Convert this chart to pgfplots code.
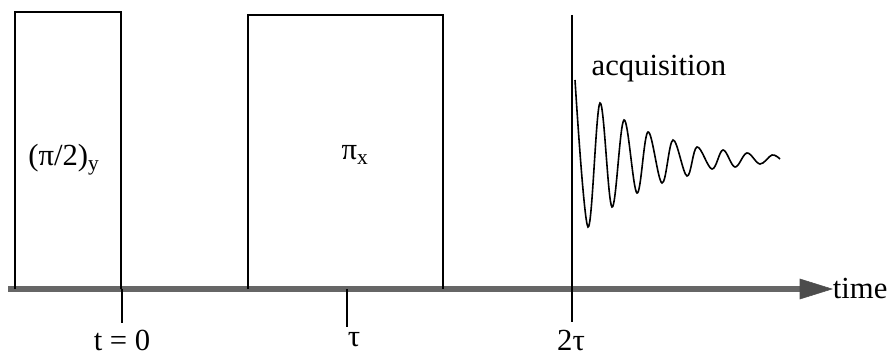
\documentclass[border=0pt]{standalone}
\usepackage{pgfplots}
\pgfplotsset{compat=1.18}
\usepackage{fontspec}
\setmainfont{Liberation Serif}
\newcommand{\lf}{\fontsize{23}{27}\selectfont}
\begin{document}
\begin{tikzpicture}
\begin{axis}[scale only axis, width=666.75pt, height=265.5pt,
  xmin=0, xmax=889, ymin=0, ymax=354, axis lines=none, clip=false]
% baseline (time axis)
\addplot[line width=4pt, color=black!60] coordinates {(8,65) (806,65)};
\addplot[fill=black!70, draw=black!70] coordinates {(800,75) (832,65) (800,55)} -- cycle;
% pulses
\addplot[line width=1.5pt, black] coordinates {(15,65) (15,342) (121,342) (121,65)};
\addplot[line width=1.5pt, black] coordinates {(248,65) (248,339) (443,339) (443,65)};
% ticks
\addplot[line width=1.5pt, black] coordinates {(122,65) (122,31)};
\addplot[line width=1.5pt, black] coordinates {(347,65) (347,27)};
\addplot[line width=1.5pt, black] coordinates {(572,339) (572,32)};
% FID
\addplot[line width=1.2pt, black, smooth, tension=0.6] coordinates {
(575,274) (588,127) (600,251) (612,147) (624,234) (637,161) (648,222) (662,171)
(673,214) (687,178) (697,207) (712,185) (723,204) (735,187) (747,201) (760,190)
(772,199) (780,195)};
% labels
\node[font=\lf] at (axis cs:64,194) {(π/2)\textsubscript{y}};
\node[font=\lf] at (axis cs:355,199) {π\textsubscript{x}};
\node[font=\lf] at (axis cs:659,285) {acquisition};
\node[font=\lf, anchor=west, inner sep=0.5pt] at (axis cs:832,66) {time};
\node[font=\lf] at (axis cs:122,14) {t = 0};
\node[font=\lf] at (axis cs:354,14) {τ};
\node[font=\lf] at (axis cs:571,14) {2τ};
\path (rel axis cs:0,0) rectangle (rel axis cs:1,1);
\end{axis}
\end{tikzpicture}
\end{document}
